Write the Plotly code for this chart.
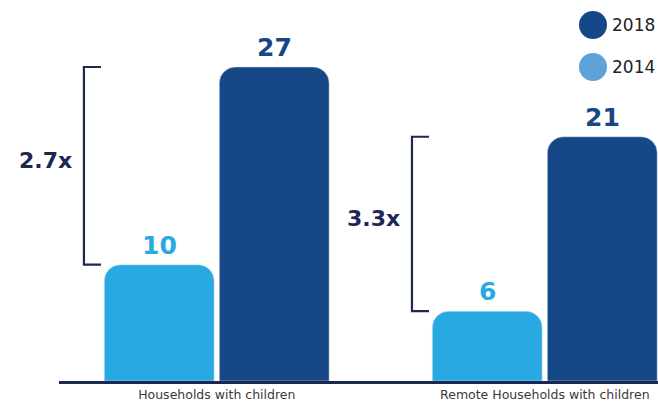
import plotly.graph_objects as go

categories = ["Households with children", "Remote Households with children"]
years = ["2014", "2018"]
values_2014 = [10, 6]
values_2018 = [27, 21]
ratio_labels = ["2.7x", "3.3x"]

LIGHT = "#29A9E1"
DARK = "#164786"
NAVY = "#1C2753"
LEGEND_LIGHT = "#5DA2D8"
BOLD = "DejaVu Sans"

xpos = list(range(len(categories)))
BW = 0.335
OFF_L = -0.343
OFF_D = 0.0076

fig = go.Figure()
fig.add_trace(go.Bar(x=xpos, y=values_2014, name=years[0], marker_color=LIGHT,
                     width=BW, offset=OFF_L, showlegend=False, hoverinfo="skip"))
fig.add_trace(go.Bar(x=xpos, y=values_2018, name=years[1], marker_color=DARK,
                     width=BW, offset=OFF_D, showlegend=False, hoverinfo="skip"))

for i, x in enumerate(xpos):
    fig.add_annotation(x=x + OFF_L + BW / 2, y=values_2014[i], text=f"<b>{values_2014[i]}</b>",
                       showarrow=False, yanchor="bottom", yshift=3,
                       font=dict(family=BOLD, size=25, color=LIGHT))
    fig.add_annotation(x=x + OFF_D + BW / 2, y=values_2018[i], text=f"<b>{values_2018[i]}</b>",
                       showarrow=False, yanchor="bottom", yshift=3,
                       font=dict(family=BOLD, size=25, color=DARK))
    # bracket
    bx = x - 0.405
    ax = x - 0.353
    lo, hi = values_2014[i], values_2018[i]
    fig.add_shape(type="path", xref="x", yref="y",
                  path=f"M {ax} {hi} L {bx} {hi} L {bx} {lo} L {ax} {lo}",
                  line=dict(color=NAVY, width=2.2))
    fig.add_annotation(x=bx, y=(lo + hi) / 2, text=f"<b>{ratio_labels[i]}</b>",
                       showarrow=False, xanchor="right", xshift=-10, yshift=5,
                       font=dict(family=BOLD, size=22, color=NAVY))

# legend (manual, large circles)
legend_items = [(years[1], DARK, 25), (years[0], LEGEND_LIGHT, 67)]
for name, col, cy in legend_items:
    yc = 1 - cy / 381
    fig.add_shape(type="circle", xref="paper", yref="paper", xsizemode="pixel", ysizemode="pixel",
                  xanchor=(593 - 59) / 599, yanchor=yc, x0=-14, x1=14, y0=-14, y1=14,
                  fillcolor=col, line=dict(width=0))
    fig.add_annotation(xref="paper", yref="paper", x=(610 - 59) / 599, y=yc, text=name,
                       showarrow=False, xanchor="left", yanchor="middle",
                       font=dict(family="DejaVu Sans", size=17, color="#222222"))

fig.update_layout(
    width=658, height=401,
    margin=dict(l=59, r=0, t=0, b=20),
    paper_bgcolor="white", plot_bgcolor="white",
    barmode="overlay",
    barcornerradius=16,
    xaxis=dict(range=[-0.481, 1.345], tickvals=xpos, ticktext=categories,
               showgrid=False, zeroline=False, showline=True, linecolor=NAVY, linewidth=3,
               ticks="", tickfont=dict(family="DejaVu Sans", size=12.5, color="#3A3A3A")),
    yaxis=dict(range=[0, 32.76], visible=False, showgrid=False, zeroline=False),
    font=dict(family="DejaVu Sans"),
)

fig.write_html("out.html", config={"displayModeBar": False},
               post_script="document.body.style.margin='0';document.body.style.overflow='hidden';")
